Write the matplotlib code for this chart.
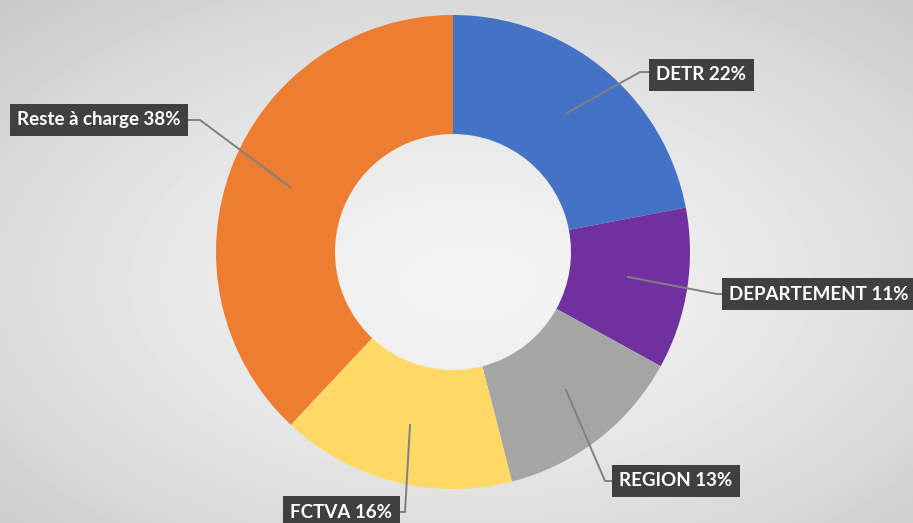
import numpy as np
import matplotlib.pyplot as plt

labels = ['DETR', 'DEPARTEMENT', 'REGION', 'FCTVA', 'Reste à charge']
values = [22, 11, 13, 16, 38]
colors = ['#4472C4', '#7030A0', '#A5A5A5', '#FFD966', '#ED7D31']

# label box centres and leader lines (pixel coords, y from top)
label_pos = [(701, 75), (819, 294), (676, 481), (341, 512), (99, 120)]
elbow_pos = [(640, 72), (717, 294), (605, 481), (405, 512), (200, 120)]
tip_pos = [(567, 113), (628, 277), (566, 390), (410, 425), (290, 187)]

W, H = 913, 523
fig = plt.figure(figsize=(W / 100, H / 100), dpi=100)
ax = fig.add_axes([0, 0, 1, 1])

# radial grey background
yy, xx = np.mgrid[0:H, 0:W]
d = np.sqrt(((xx - 470) / W) ** 2 + ((yy - 240) / H) ** 2)
bg = 0.955 - 0.17 * (d / d.max()) ** 1.5
ax.imshow(bg, cmap='gray', vmin=0, vmax=1, extent=(0, W, H, 0), zorder=0)

cx, cy, r = 453, H - 252, 237
ax.pie(values, colors=colors, startangle=90, counterclock=False,
       center=(cx, cy), radius=r, frame=True,
       wedgeprops=dict(width=r - 118, linewidth=0))
ax.set_xlim(0, W)
ax.set_ylim(0, H)
ax.set_aspect('equal')
ax.axis('off')

for lab, v, lp, ep, tp in zip(labels, values, label_pos, elbow_pos, tip_pos):
    ax.plot([tp[0], ep[0], lp[0]], [H - tp[1], H - ep[1], H - ep[1]],
            color='#808080', lw=1.4, zorder=3)
    ax.text(lp[0], H - lp[1], f'{lab} {v}%', ha='center', va='center',
            color='white', fontsize=13.5, fontweight='bold', family='Lato',
            zorder=5,
            bbox=dict(boxstyle='square,pad=0.4', fc='#404040', ec='none'))

fig.savefig('out.png', dpi=100)
